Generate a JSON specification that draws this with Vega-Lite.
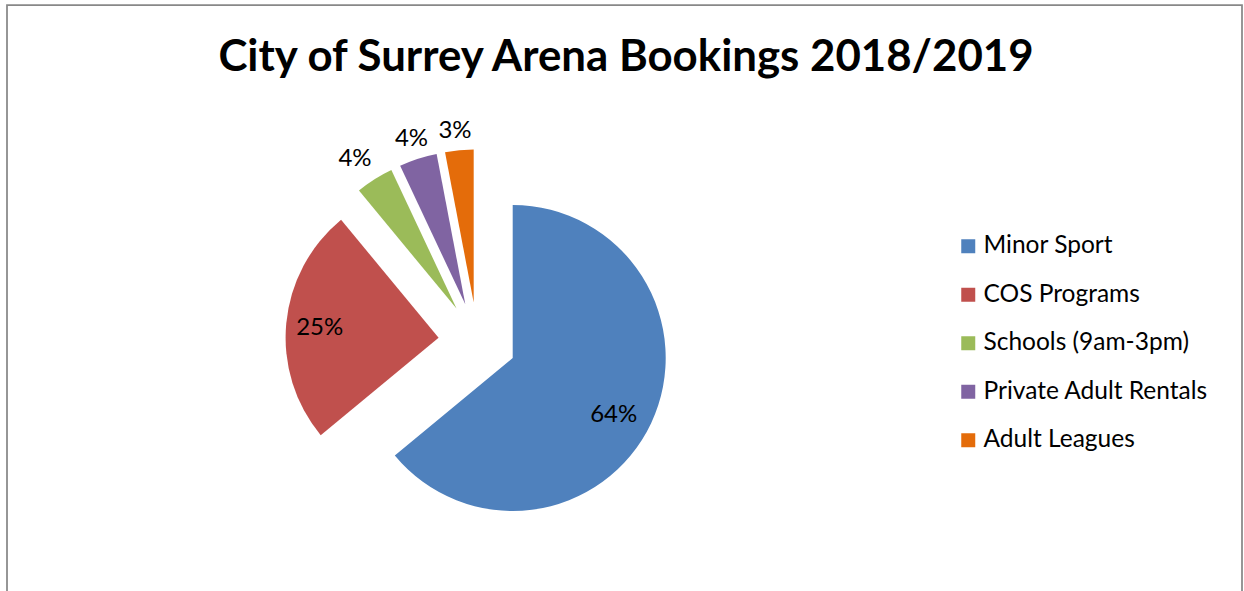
{
  "$schema": "https://vega.github.io/schema/vega-lite/v6.json",
  "width": 1235,
  "height": 592,
  "autosize": {"type": "none"},
  "padding": {"left": 7, "top": 5, "right": 2, "bottom": -6},
  "background": "#ffffff",
  "view": {"stroke": "#888888", "strokeWidth": 1.75},
  "config": {
    "view": {"stroke": "#888888", "strokeWidth": 1.75},
    "font": "Lato"
  },
  "title": {
    "text": "City of Surrey Arena Bookings 2018/2019",
    "font": "Lato",
    "fontSize": 43.8,
    "fontWeight": "bold",
    "color": "#000000",
    "anchor": "middle",
    "dx": 1.5,
    "offset": -75
  },
  "data": {
    "values": [
      {"category": "Minor Sport", "value": 0.64, "order": 1},
      {"category": "COS Programs", "value": 0.25, "order": 2},
      {"category": "Schools (9am-3pm)", "value": 0.04, "order": 3},
      {"category": "\u00a0Private Adult Rentals", "value": 0.04, "order": 4},
      {"category": "Adult Leagues", "value": 0.03, "order": 5}
    ]
  },
  "transform": [
    {"stack": "value", "groupby": [], "sort": [{"field": "order", "order": "ascending"}], "as": ["v0", "v1"]}
  ],
  "encoding": {
    "color": {
      "field": "category",
      "type": "nominal",
      "scale": {
        "domain": ["Minor Sport", "COS Programs", "Schools (9am-3pm)", "\u00a0Private Adult Rentals", "Adult Leagues"],
        "range": ["#4F81BD", "#C0504D", "#9BBB59", "#8064A2", "#E46C0A"]
      },
      "legend": {
        "orient": "none",
        "legendX": 949,
        "legendY": 229,
        "title": null,
        "padding": 0,
        "labelFont": "Lato",
        "labelFontSize": 24.5,
        "labelColor": "#000000",
        "labelLimit": 500,
        "symbolType": "square",
        "symbolSize": 196,
        "symbolStrokeWidth": 0,
        "symbolOpacity": 1,
        "rowPadding": 23.5,
        "labelOffset": 3
      }
    }
  },
  "layer": [
    {
      "transform": [{"filter": "datum.order === 1"}],
      "mark": {"type": "arc", "radius": 153, "x": 505.7, "y": 353.0},
      "encoding": {
        "theta": {"field": "v0", "type": "quantitative", "scale": {"domain": [0, 1]}},
        "theta2": {"field": "v1"}
      }
    },
    {
      "transform": [{"filter": "datum.order === 2"}],
      "mark": {"type": "arc", "radius": 153, "x": 431.6, "y": 332.7},
      "encoding": {
        "theta": {"field": "v0", "type": "quantitative", "scale": {"domain": [0, 1]}},
        "theta2": {"field": "v1"}
      }
    },
    {
      "transform": [{"filter": "datum.order === 3"}],
      "mark": {"type": "arc", "radius": 153, "x": 449.5, "y": 303.5},
      "encoding": {
        "theta": {"field": "v0", "type": "quantitative", "scale": {"domain": [0, 1]}},
        "theta2": {"field": "v1"}
      }
    },
    {
      "transform": [{"filter": "datum.order === 4"}],
      "mark": {"type": "arc", "radius": 153, "x": 458.3, "y": 299.3},
      "encoding": {
        "theta": {"field": "v0", "type": "quantitative", "scale": {"domain": [0, 1]}},
        "theta2": {"field": "v1"}
      }
    },
    {
      "transform": [{"filter": "datum.order === 5"}],
      "mark": {"type": "arc", "radius": 153, "x": 466.7, "y": 297.6},
      "encoding": {
        "theta": {"field": "v0", "type": "quantitative", "scale": {"domain": [0, 1]}},
        "theta2": {"field": "v1"}
      }
    },
    {
      "mark": {"type": "text", "radius": 116, "x": 505.7, "y": 353.0, "dx": -4, "dy": 8, "font": "Lato", "fontSize": 24, "color": "#000000"},
      "encoding": {
        "color": null,
        "theta": {"field": "value", "type": "quantitative", "stack": true, "scale": {"domain": [0, 1]}},
        "order": {"field": "order", "type": "quantitative"},
        "detail": {"field": "category", "type": "nominal"},
        "text": {"condition": {"test": "datum.order === 1", "field": "value", "type": "quantitative", "format": ".0%"}, "value": ""}
      }
    },
    {
      "mark": {"type": "text", "radius": 119.4, "x": 431.6, "y": 332.7, "dy": 2, "font": "Lato", "fontSize": 24, "color": "#000000"},
      "encoding": {
        "color": null,
        "theta": {"field": "value", "type": "quantitative", "stack": true, "scale": {"domain": [0, 1]}},
        "order": {"field": "order", "type": "quantitative"},
        "detail": {"field": "category", "type": "nominal"},
        "text": {"condition": {"test": "datum.order === 2", "field": "value", "type": "quantitative", "format": ".0%"}, "value": ""}
      }
    },
    {
      "mark": {"type": "text", "radius": 181, "x": 449.5, "y": 303.5, "dx": -4.5, "dy": 3, "font": "Lato", "fontSize": 24, "color": "#000000"},
      "encoding": {
        "color": null,
        "theta": {"field": "value", "type": "quantitative", "stack": true, "scale": {"domain": [0, 1]}},
        "order": {"field": "order", "type": "quantitative"},
        "detail": {"field": "category", "type": "nominal"},
        "text": {"condition": {"test": "datum.order === 3", "field": "value", "type": "quantitative", "format": ".0%"}, "value": ""}
      }
    },
    {
      "mark": {"type": "text", "radius": 174, "x": 458.3, "y": 299.3, "font": "Lato", "fontSize": 24, "color": "#000000"},
      "encoding": {
        "color": null,
        "theta": {"field": "value", "type": "quantitative", "stack": true, "scale": {"domain": [0, 1]}},
        "order": {"field": "order", "type": "quantitative"},
        "detail": {"field": "category", "type": "nominal"},
        "text": {"condition": {"test": "datum.order === 4", "field": "value", "type": "quantitative", "format": ".0%"}, "value": ""}
      }
    },
    {
      "mark": {"type": "text", "radius": 172.3, "x": 466.7, "y": 297.6, "dx": -2.5, "font": "Lato", "fontSize": 24, "color": "#000000"},
      "encoding": {
        "color": null,
        "theta": {"field": "value", "type": "quantitative", "stack": true, "scale": {"domain": [0, 1]}},
        "order": {"field": "order", "type": "quantitative"},
        "detail": {"field": "category", "type": "nominal"},
        "text": {"condition": {"test": "datum.order === 5", "field": "value", "type": "quantitative", "format": ".0%"}, "value": ""}
      }
    }
  ]
}
